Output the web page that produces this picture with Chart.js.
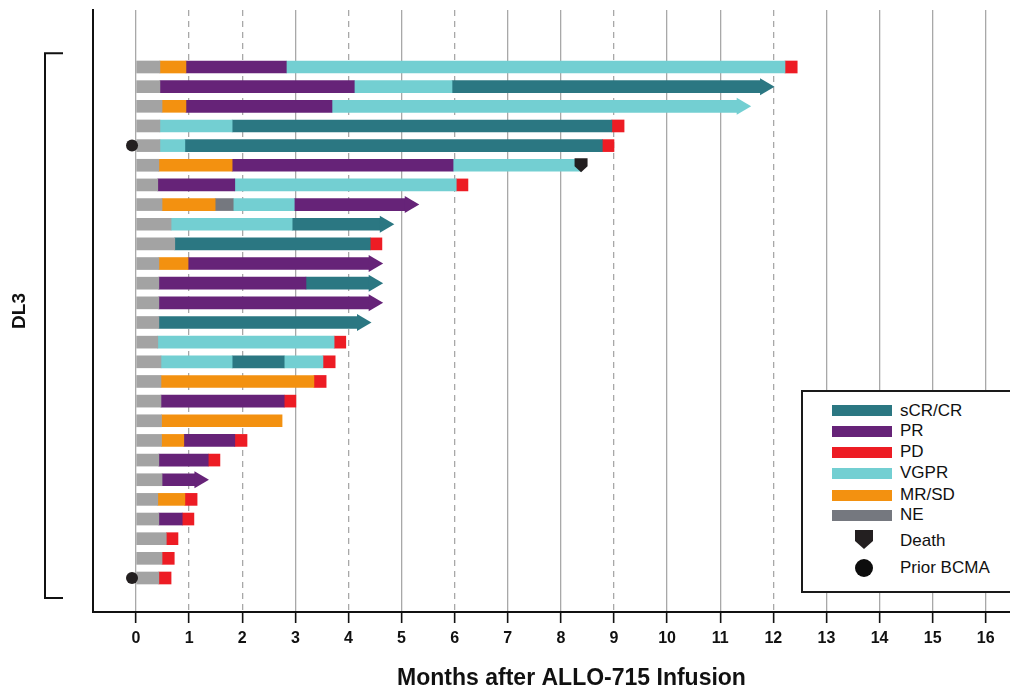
<!DOCTYPE html>
<html>
<head>
<meta charset="utf-8">
<script src="https://cdn.jsdelivr.net/npm/chart.js@4.4.1/dist/chart.umd.min.js"></script>
<style>
  html, body { margin: 0; padding: 0; background: #fff; overflow: hidden; }
  #wrap { position: relative; width: 1010px; height: 690px; overflow: hidden; font-family: 'Liberation Sans', Arial, sans-serif; }
  #cv { position: absolute; left: 0; top: 0; }
  #legend { position: absolute; left: 801px; top: 390px; width: 260px; height: 203px; box-sizing: border-box; border: 2px solid #1a1a1a; background: #fff; }
  .sw { position: absolute; width: 60px; height: 11px; }
  .lt { position: absolute; font-size: 17px; line-height: 20px; color: #111; white-space: nowrap; }
  .death { position: absolute; width: 18px; height: 19px; background: #231f20; clip-path: polygon(0 0, 100% 0, 100% 58%, 50% 100%, 0 58%); }
  .dot { position: absolute; width: 18px; height: 18px; border-radius: 50%; background: #0d0d0d; }
</style>
</head>
<body>
<div id="wrap">
  <canvas id="cv" width="1050" height="690"></canvas>
  <div id="legend"></div>
</div>
<script>
// ---------------- DATA ----------------
const rows = [1,2,3,4,5,6,7,8,9,10,11,12,13,14,15,16,17,18,19,20,21,22,23,24,25,26,27];
// response status of each consecutive segment of a row (LD = pre-response period)
const segStatus = [
  ['LD','MR','PR','VGPR','PD'],
  ['LD','PR','VGPR','CR'],
  ['LD','MR','PR','VGPR'],
  ['LD','VGPR','CR','PD'],
  ['LD','VGPR','CR','PD'],
  ['LD','MR','PR','VGPR'],
  ['LD','PR','VGPR','PD'],
  ['LD','MR','NE','VGPR','PR'],
  ['LD','VGPR','CR'],
  ['LD','CR','PD'],
  ['LD','MR','PR'],
  ['LD','PR','CR'],
  ['LD','PR'],
  ['LD','CR'],
  ['LD','VGPR','PD'],
  ['LD','VGPR','CR','VGPR','PD'],
  ['LD','MR','PD'],
  ['LD','PR','PD'],
  ['LD','MR'],
  ['LD','MR','PR','PD'],
  ['LD','PR','PD'],
  ['LD','PR'],
  ['LD','MR','PD'],
  ['LD','PR','PD'],
  ['LD','PD'],
  ['LD','PD'],
  ['LD','PD']
];
// month at which each segment ends (segments start at 0 and follow one another)
const segEnd = [
  [0.45,0.94,2.83,12.22,12.45],
  [0.45,4.11,5.95,11.76],
  [0.49,0.94,3.69,11.32],
  [0.45,1.81,8.96,9.19],
  [0.45,0.92,8.78,9.00],
  [0.43,1.81,5.97,8.38],
  [0.41,1.86,6.03,6.25],
  [0.49,1.49,1.83,2.98,5.07],
  [0.66,2.94,4.60],
  [0.73,4.41,4.63],
  [0.43,0.98,4.39],
  [0.43,3.20,4.39],
  [0.43,4.39],
  [0.43,4.17],
  [0.41,3.73,3.95],
  [0.47,1.81,2.79,3.52,3.75],
  [0.47,3.35,3.58],
  [0.47,2.79,3.01],
  [0.48,2.75],
  [0.48,0.90,1.86,2.09],
  [0.43,1.36,1.58],
  [0.49,1.11],
  [0.41,0.92,1.15],
  [0.43,0.87,1.09],
  [0.57,0.79],
  [0.49,0.72],
  [0.43,0.66]
];
const arrowRows = [2,3,8,9,11,12,13,14,22];   // ongoing response
const deathRows = [6];
const bcmaRows = [5,27];                      // prior BCMA therapy
const xTickValues = [0,1,2,3,4,5,6,7,8,9,10,11,12,13,14,15,16];
const dashedMonths = [1,2,4,6,9,12];
const legendKeys = ['CR','PR','PD','VGPR','MR','NE'];
const legendLabels = ['sCR/CR','PR','PD','VGPR','MR/SD','NE'];

// ---------------- STYLE ----------------
const COLORS = {
  LD: '#a3a3a3', NE: '#75787f', MR: '#f39110', PR: '#662378',
  VGPR: '#73cfd2', CR: '#2b7782', PD: '#ed1c24'
};
const MARK = '#231f20';

// ---------------- DATASETS ----------------
const maxSegs = Math.max(...segEnd.map(a => a.length));
const datasets = [];
for (let k = 0; k < maxSegs; k++) {
  const data = [];
  rows.forEach((r, i) => {
    if (segEnd[i][k] !== undefined) {
      const start = k === 0 ? 0 : segEnd[i][k - 1];
      data.push({ y: r, x: [start, segEnd[i][k]], s: segStatus[i][k] });
    }
  });
  datasets.push({
    label: 'seg' + k,
    data,
    backgroundColor: c => (c.raw ? COLORS[c.raw.s] : '#000'),
    borderWidth: 0,
    barThickness: 12,
    grouped: false
  });
}

// ---------------- LEGEND (HTML) ----------------
const lg = document.getElementById('wrap');
const legendRowY = [410.5, 431.3, 452, 473.4, 495.3, 515.3];
legendKeys.forEach((k, i) => {
  const sw = document.createElement('div');
  sw.className = 'sw';
  sw.style.left = '832px';
  sw.style.top = (legendRowY[i] - 5.5) + 'px';
  sw.style.background = COLORS[k];
  lg.appendChild(sw);
  const t = document.createElement('div');
  t.className = 'lt';
  t.style.left = '900px';
  t.style.top = (legendRowY[i] - 10) + 'px';
  t.textContent = legendLabels[i];
  lg.appendChild(t);
});
(function () {
  const d = document.createElement('div');
  d.className = 'death'; d.style.left = '855px'; d.style.top = '530px';
  lg.appendChild(d);
  const t1 = document.createElement('div');
  t1.className = 'lt'; t1.style.left = '900px'; t1.style.top = '530.5px'; t1.textContent = 'Death';
  lg.appendChild(t1);
  const c = document.createElement('div');
  c.className = 'dot'; c.style.left = '855px'; c.style.top = '559px';
  lg.appendChild(c);
  const t2 = document.createElement('div');
  t2.className = 'lt'; t2.style.left = '900px'; t2.style.top = '558px'; t2.textContent = 'Prior BCMA';
  lg.appendChild(t2);
})();

// ---------------- MARKERS PLUGIN ----------------
const markers = {
  id: 'markers',
  afterDatasetsDraw(chart) {
    const { ctx, scales: { x, y } } = chart;
    ctx.save();
    arrowRows.forEach(r => {
      const i = rows.indexOf(r);
      const ends = segEnd[i], st = segStatus[i];
      const px = x.getPixelForValue(ends[ends.length - 1]);
      const py = y.getPixelForValue(r);
      ctx.fillStyle = COLORS[st[st.length - 1]];
      ctx.beginPath();
      ctx.moveTo(px - 0.5, py - 8.5);
      ctx.lineTo(px + 14, py);
      ctx.lineTo(px - 0.5, py + 8.5);
      ctx.closePath();
      ctx.fill();
    });
    deathRows.forEach(r => {
      const i = rows.indexOf(r);
      const ends = segEnd[i];
      const px = x.getPixelForValue(ends[ends.length - 1]);
      const py = y.getPixelForValue(r);
      ctx.fillStyle = MARK;
      ctx.beginPath();
      ctx.moveTo(px - 6.5, py - 7);
      ctx.lineTo(px + 6.5, py - 7);
      ctx.lineTo(px + 6.5, py + 1);
      ctx.lineTo(px, py + 7);
      ctx.lineTo(px - 6.5, py + 1);
      ctx.closePath();
      ctx.fill();
    });
    bcmaRows.forEach(r => {
      const px = x.getPixelForValue(0) - 4;
      const py = y.getPixelForValue(r);
      ctx.fillStyle = MARK;
      ctx.beginPath();
      ctx.arc(px, py, 6, 0, Math.PI * 2);
      ctx.fill();
    });
    ctx.restore();
  },
  afterDraw(chart) {
    const { ctx, scales: { y } } = chart;
    const yTop = y.getPixelForValue(rows[0] - 0.7);
    const yBot = y.getPixelForValue(rows[rows.length - 1] + 1.02);
    ctx.save();
    ctx.strokeStyle = '#111';
    ctx.lineWidth = 2;
    ctx.beginPath();
    ctx.moveTo(63, yTop);
    ctx.lineTo(45, yTop);
    ctx.lineTo(45, yBot);
    ctx.lineTo(63, yBot);
    ctx.stroke();
    ctx.restore();
  }
};

// ---------------- CHART ----------------
Chart.defaults.font.family = "'Liberation Sans', Arial, sans-serif";
Chart.defaults.color = '#111';

new Chart(document.getElementById('cv'), {
  type: 'bar',
  data: { datasets },
  options: {
    indexAxis: 'y',
    responsive: false,
    animation: false,
    layout: { padding: { top: 10, left: 0, right: 0, bottom: 0 } },
    plugins: { legend: { display: false }, tooltip: { enabled: false } },
    scales: {
      x: {
        type: 'linear',
        min: -0.81,
        max: 17.21,
        offset: false,
        afterBuildTicks: s => { s.ticks = s.ticks.filter(t => xTickValues.includes(t.value)); },
        afterFit: s => { s.height = 78; },
        ticks: {
          stepSize: 1,
          includeBounds: false,
          autoSkip: false,
          maxRotation: 0,
          padding: 6,
          color: '#111',
          font: { size: 16, weight: 'bold' }
        },
        grid: {
          offset: false,
          color: '#a8a8a8',
          lineWidth: 1.3,
          drawTicks: true,
          tickLength: 11,
          tickColor: '#111',
          tickWidth: 1.6
        },
        border: {
          display: true,
          color: '#111',
          width: 2,
          dash: c => (c.tick && dashedMonths.includes(c.tick.value) ? [6, 5] : [])
        },
        title: {
          display: true,
          text: 'Months after ALLO-715 Infusion',
          color: '#111',
          font: { size: 23, weight: 'bold', lineHeight: 1 },
          padding: { top: 0, bottom: 0 }
        }
      },
      y: {
        type: 'linear',
        min: -1.9,
        max: 28.73,
        reverse: true,
        offset: false,
        afterFit: s => { s.width = 93; },
        ticks: { display: false },
        grid: { display: false, offset: false },
        border: { display: true, color: '#111', width: 2 },
        title: {
          display: true,
          text: 'DL3',
          color: '#111',
          font: { size: 19, weight: 'bold', lineHeight: 1.2 },
          padding: { top: 8, bottom: 0 }
        }
      }
    }
  },
  plugins: [markers]
});
</script>
</body>
</html>
